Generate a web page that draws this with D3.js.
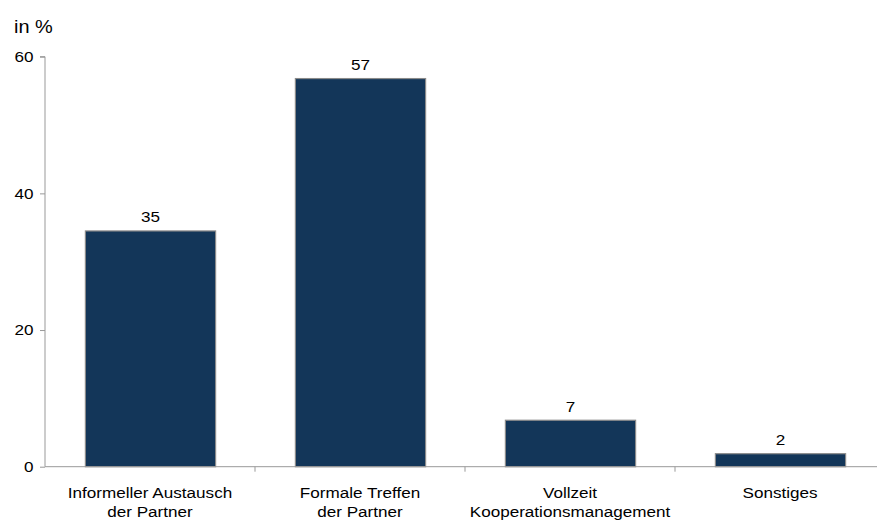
<!DOCTYPE html>
<html><head><meta charset="utf-8">
<script src="https://cdn.jsdelivr.net/npm/d3@7"></script>
<style>body{margin:0;background:#fff}svg{display:block}text{font-family:"Liberation Sans",Arial,sans-serif;fill:#000}</style>
</head><body>
<svg id="c" width="877" height="520"></svg>
<script>
const categories = [["Informeller Austausch","der Partner"],["Formale Treffen","der Partner"],["Vollzeit","Kooperationsmanagement"],["Sonstiges"]];
const values = [34.5, 56.8, 6.8, 1.9];
const valueLabels = ["35","57","7","2"];
const yTicks = [0,20,40,60];

(function(){
const svg = d3.select("#c");
const mLeft = 45, mRight = 885, mTop = 56.7, mBottom = 466.7;
const sx = 1.14;
const x = d3.scaleBand().domain(d3.range(categories.length)).range([mLeft,mRight]).paddingInner(0.38).paddingOuter(0.19);
const xb = d3.scaleBand().domain(d3.range(categories.length)).range([mLeft,mRight]);
const y = d3.scaleLinear().domain([0,60]).range([mBottom,mTop]);
const axisColor = "#999";

function label(px, py, str, size, anchor){
  return svg.append("text").attr("transform",`translate(${px},${py}) scale(${sx},1)`)
    .attr("text-anchor",anchor||"middle").attr("font-size",size).text(str);
}

svg.selectAll("rect.bar").data(values).enter().append("rect")
  .attr("x",(d,i)=>x(i)+0.5).attr("width",x.bandwidth())
  .attr("y",d=>y(d)).attr("height",d=>y(0)-y(d))
  .attr("fill","#133659").attr("stroke","#8a8a8a").attr("stroke-width",1.2);
values.forEach((d,i)=>label(x(i)+x.bandwidth()/2+0.5, y(d)-8.5, valueLabels[i], 15));

const ya = svg.append("g").attr("transform",`translate(${mLeft},0)`)
  .call(d3.axisLeft(y).tickValues(yTicks).tickSize(5).tickFormat(""));
ya.select(".domain").attr("stroke",axisColor).attr("d",`M0,${mBottom}V${mTop}H-5`);
ya.selectAll(".tick line").attr("stroke",axisColor);
yTicks.forEach(t=>label(33.5, y(t)+5.3, String(t), 15, "end"));

const xg = svg.append("g");
xg.append("line").attr("x1",mLeft).attr("x2",877).attr("y1",mBottom).attr("y2",mBottom).attr("stroke",axisColor);
xg.selectAll("line.t").data(d3.range(1,categories.length)).enter().append("line")
  .attr("x1",d=>xb(d)).attr("x2",d=>xb(d)).attr("y1",mBottom).attr("y2",mBottom+5).attr("stroke",axisColor);
categories.forEach((lines,i)=>{
  lines.forEach((l,j)=>label(xb(i)+xb.bandwidth()/2, 497.5 + j*19, l, 15));
});
label(14, 33, "in %", 17.5, "start");
})();
</script>
</body></html>
